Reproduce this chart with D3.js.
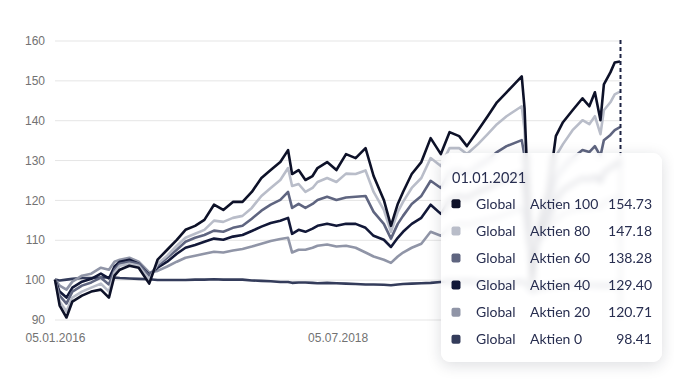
<!DOCTYPE html>
<html>
<head>
<meta charset="utf-8">
<script src="https://cdn.jsdelivr.net/npm/d3@7"></script>
<style>
  body { margin: 0; background: #fff; }
  #chart { position: relative; width: 674px; height: 384px; }
  #tooltip {
    position: absolute; left: 441px; top: 153px; width: 221px; height: 209px;
    border-radius: 9px; background: rgba(255,255,255,0.84);
    backdrop-filter: blur(3px);
    box-shadow: 0 3px 15px rgba(20,25,50,0.15);
  }
  .axis text { font-family: "Liberation Sans", Arial, sans-serif; font-size: 12px; fill: #727272; }
  .tip text { font-family: Lato, sans-serif; font-size: 14px; fill: #282e50; }
  .tip text.title { font-size: 14.5px; }
</style>
</head>
<body>
<div id="chart"></div>
<script>
const dates = ["2016-01-05","2016-01-20","2016-02-11","2016-03-01","2016-04-01","2016-05-01","2016-06-01","2016-06-27","2016-07-15","2016-08-01",
  "2016-09-01","2016-10-01","2016-11-04","2016-12-01","2017-01-01","2017-02-01","2017-03-01","2017-04-01","2017-05-01","2017-06-01",
  "2017-07-01","2017-08-01","2017-09-01","2017-10-01","2017-11-01","2017-12-01","2018-01-01","2018-01-26","2018-02-08","2018-03-01",
  "2018-03-23","2018-04-15","2018-05-01","2018-06-01","2018-07-01","2018-08-01","2018-09-01","2018-10-03","2018-10-29","2018-12-01",
  "2018-12-24","2019-01-15","2019-02-01","2019-03-01","2019-04-01","2019-05-01","2019-06-03","2019-07-01","2019-08-01","2019-08-26",
  "2019-10-01","2019-11-01","2019-12-01","2020-01-01","2020-02-19","2020-02-28","2020-03-12","2020-03-23","2020-04-15","2020-05-15",
  "2020-06-08","2020-07-01","2020-08-01","2020-09-02","2020-09-24","2020-10-12","2020-10-30","2020-11-10","2020-12-01","2020-12-15",
  "2021-01-01"];

const aktien100 = [100,93.5,90.5,94.5,96,97,97.5,95.5,101,102.5,
  103.5,103,99,105,107.5,110,112.5,113.5,115,118.8,
  117.5,119.5,119.5,122,125.5,127.5,129.5,132.5,126.5,127.5,
  125,126,128,129.5,127.5,131.5,130.5,133,126,120,
  113.5,119,122,126.5,129.5,135.5,131.5,137,136,133.5,
  137.5,141,144.5,147,151,143,118,99,114,122,
  136,139.5,142.5,145.5,143.5,147,140,149,152,154.5,
  154.73];
const aktien80 = [100,94.5,92,95.5,97,98,99,97,101.8,103.5,
  104,103.5,100,104,106,108.5,110.5,111.5,112.5,114.8,
  114.5,115.5,116,118,121,123,125,128,123.5,124,
  122,123,124.5,125.5,124.5,126.6,126.5,127.4,122,117.5,
  112,117,119.5,123,125.5,130.5,128.5,133,133,131.5,
  134,136.5,139,141,143.5,137.5,117,101,113,120,
  131,134,137.5,140,139,141,136.5,142.5,144.5,146.5,
  147.18];
const aktien60 = [100,96,94,97,98.5,99.3,100.5,98.8,102.5,104,
  104.5,104,101,103.5,105.5,107.5,109.5,110.5,111.2,112.3,
  112,113,113.5,115.3,117.3,118.8,120,122,118,119,
  118,119,120,120.8,120,120.6,120.8,121,117,114,
  110.3,114,116,119,121,124.8,123,127,127.5,126.5,
  128.5,130,132,133.5,135,131,115,103,112,117.5,
  125.5,128,130.5,132.5,132,133.5,131,135,136.3,137.5,
  138.28];
const aktien40 = [100,97,95.5,98,99.5,100.2,101.5,100.3,103.3,104.5,
  105,104,101.2,103,104.5,106.5,108,108.7,109.5,110.3,
  110,110.8,111.2,112.2,113.3,114.2,114.8,115.5,111.5,112.5,
  112,112.8,113.5,114,113.5,114,114,113,111,110,
  108.2,110.5,112,114,115.5,118.8,116.5,120,121,120.5,
  122,123,124.2,125.3,126.5,124,112.5,104.5,111,115,
  120,122.5,124,125.5,125,126,124.5,127,128,128.8,
  129.40];
const aktien20 = [100,98.5,97.5,99.5,101,101.5,103,102.5,104.5,105,
  105.5,104.5,101.8,102.2,103.3,104.5,105.5,106,106.5,107,
  106.8,107.3,107.7,108.3,109,109.7,110.2,110.5,106.8,107.5,
  107.5,108,108.5,108.8,108.3,108.5,108,106.8,105.8,105,
  104.2,105.8,106.8,108,109,112,111,113,114,113.8,
  114.5,115,115.6,116.5,118,116.5,109,105,110,112.5,
  115,116.5,117.5,118,117.8,118.5,118,119.3,120,120.4,
  120.71];
const aktien0 = [100,99.8,100,100.2,100.4,100.4,100.5,100.6,100.5,100.4,
  100.3,100.2,100.1,99.9,99.9,99.9,99.9,100,100,100.1,
  100,100,100,99.8,99.7,99.6,99.4,99.4,99.2,99.3,
  99.3,99.2,99.1,99.2,99.1,99,98.9,98.8,98.8,98.7,
  98.6,98.8,98.9,99,99.1,99.2,99.4,99.5,99.6,99.7,
  99.4,99.3,99.3,99.3,99.5,99.4,98.2,97,97.8,98.2,
  98.5,98.7,98.8,98.7,98.6,98.6,98.5,98.5,98.5,98.4,
  98.41];

const seriesNames = ["Global Aktien 100","Global Aktien 80","Global Aktien 60","Global Aktien 40","Global Aktien 20","Global Aktien 0"];
const seriesValues = [aktien100, aktien80, aktien60, aktien40, aktien20, aktien0];
const seriesColors = ["#0d1128","#b9bdc9","#5f6580","#121838","#9095a7","#343c5b"];
const yTicks = [90,100,110,120,130,140,150,160];
const xTicks = ["2016-01-05","2018-07-05"];
const tooltipDate = "01.01.2021";

const width = 674, height = 384;
const parse = d3.timeParse("%Y-%m-%d");
const fmt = d3.timeFormat("%d.%m.%Y");
const parsed = dates.map(parse);

const x = d3.scaleTime().domain(d3.extent(parsed)).range([55, 620]);
const y = d3.scaleLinear().domain([90, 160]).range([319.5, 40.5]);

const chart = d3.select("#chart");
const svg = chart.append("svg")
  .attr("width", width)
  .attr("height", height)
  .style("position", "absolute")
  .style("left", 0).style("top", 0);

// y grid + labels
const yAxis = svg.append("g")
  .attr("class", "axis")
  .attr("transform", "translate(55,0)")
  .call(d3.axisLeft(y).tickValues(yTicks).tickSize(-566).tickPadding(10));
yAxis.select(".domain").remove();
yAxis.selectAll("line").attr("stroke", "#e5e5e5");
yAxis.selectAll("text").attr("dy", "0.34em");

const xAxis = svg.append("g")
  .attr("class", "axis")
  .attr("transform", "translate(0,319.5)")
  .call(d3.axisBottom(x).tickValues(xTicks.map(parse)).tickFormat(fmt).tickSize(0).tickPadding(14));
xAxis.select(".domain").remove();

// lines, Aktien 100 drawn last so it sits on top
const line = d3.line()
  .x((d, i) => x(parsed[i]))
  .y(d => y(d));

const order = [5, 4, 3, 2, 1, 0];
svg.append("g")
  .selectAll("path")
  .data(order)
  .enter()
  .append("path")
  .attr("d", i => line(seriesValues[i]))
  .attr("fill", "none")
  .attr("stroke", i => seriesColors[i])
  .attr("stroke-width", 2.6)
  .attr("stroke-linejoin", "round");

// hover line
const xEnd = x(parsed[parsed.length - 1]) + 0.5;
svg.append("line")
  .attr("x1", xEnd).attr("x2", xEnd)
  .attr("y1", 40).attr("y2", 320)
  .attr("stroke", "#1e2444")
  .attr("stroke-width", 2)
  .attr("stroke-dasharray", "4,3");

// tooltip
const tip = chart.append("div").attr("id", "tooltip");
const tsvg = tip.append("svg")
  .attr("class", "tip")
  .attr("width", 221)
  .attr("height", 209);

tsvg.append("text")
  .attr("class", "title")
  .attr("x", 11)
  .attr("y", 30)
  .text(tooltipDate);

const rows = tsvg.selectAll("g.row")
  .data(seriesNames)
  .enter()
  .append("g")
  .attr("class", "row")
  .attr("transform", (d, i) => `translate(0, ${50.8 + i * 27.1})`);

rows.append("rect")
  .attr("x", 10.5).attr("y", -4.5)
  .attr("width", 9).attr("height", 9)
  .attr("rx", 2)
  .attr("fill", (d, i) => seriesColors[i]);

rows.append("text")
  .attr("x", 35).attr("dy", "0.36em")
  .text(d => d.split(" ")[0]);

rows.append("text")
  .attr("x", 89).attr("dy", "0.36em")
  .text(d => d.split(" ").slice(1).join(" "));

rows.append("text")
  .attr("x", 211).attr("dy", "0.36em")
  .attr("text-anchor", "end")
  .text((d, i) => seriesValues[i][seriesValues[i].length - 1].toFixed(2));
</script>
</body>
</html>
